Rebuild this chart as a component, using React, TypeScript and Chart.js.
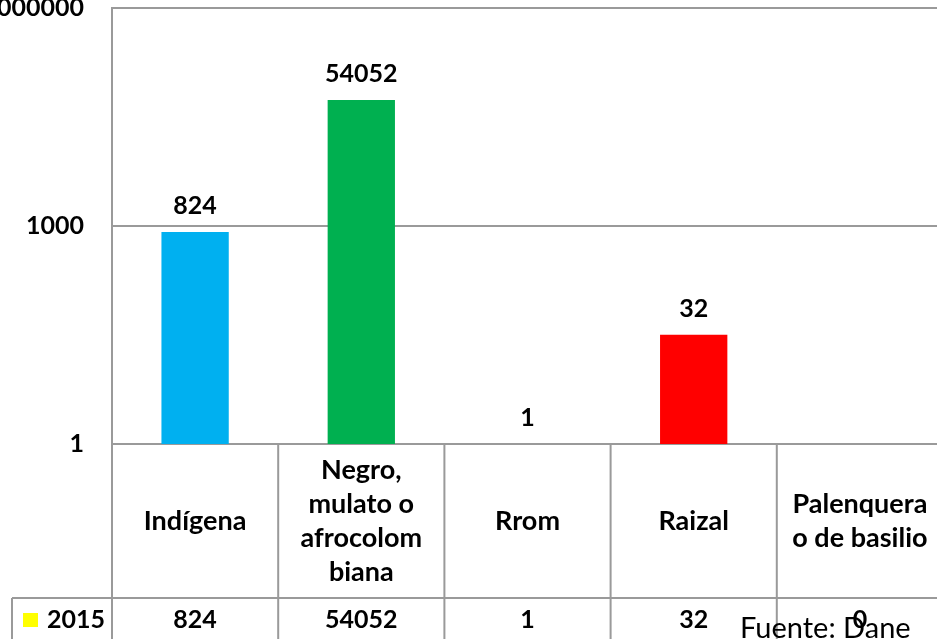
import React, { useEffect, useRef } from "react";
import { Chart, registerables } from "chart.js";

Chart.register(...registerables);

const categories = ["Indígena", "Negro, mulato o afrocolombiana", "Rrom", "Raizal", "Palenquera o de basilio"];
const categoryLines = [["Indígena"], ["Negro,", "mulato o", "afrocolom", "biana"], ["Rrom"], ["Raizal"], ["Palenquera", "o de basilio"]];
const seriesName = "2015";
const values2015 = [824, 54052, 1, 32, 0];
const barColors = ["#00B0F0", "#00B050", "#FFC000", "#FF0000", "#7030A0"];
const yTicks = [1, 1000, 1000000];
const sourceText = "Fuente: Dane";

const OX = 40; // canvas x = page x + OX
const OY = 10; // canvas y = page y + OY
const CW = 1000;
const CH = 700;
const GRID = "#9a9a9a";
const FONT = "Lato";

export default function App() {
  const ref = useRef<HTMLCanvasElement | null>(null);
  useEffect(() => {
    const canvas = ref.current;
    if (!canvas) return;

    const tablePlugin = {
      id: "tablePlugin",
      afterDatasetsDraw(chart: any) {
        const ctx = chart.ctx as CanvasRenderingContext2D;
        const meta = chart.getDatasetMeta(0);
        ctx.save();
        ctx.fillStyle = "#000";
        ctx.textAlign = "center";
        ctx.textBaseline = "middle";
        ctx.font = `bold 25px ${FONT}`;
        meta.data.forEach((bar: any, i: number) => {
          const v = chart.data.datasets[0].data[i];
          if (v == null) return;
          ctx.fillText(String(values2015[i]), bar.x, bar.y - 26);
        });
        ctx.restore();
      },
      afterDraw(chart: any) {
        const ctx = chart.ctx as CanvasRenderingContext2D;
        const area = chart.chartArea;
        const xs = chart.scales.x;
        const n = categories.length;
        const w = (area.right - area.left) / n;
        const rowY = 598 + OY;
        const bottom = CH;
        ctx.save();
        ctx.strokeStyle = GRID;
        ctx.lineWidth = 2;
        ctx.beginPath();
        for (let i = 0; i <= n; i++) {
          const x = area.left + i * w;
          ctx.moveTo(x, area.bottom);
          ctx.lineTo(x, bottom);
        }
        ctx.moveTo(12 + OX, rowY);
        ctx.lineTo(CW, rowY);
        ctx.moveTo(12 + OX, rowY);
        ctx.lineTo(12 + OX, bottom);
        ctx.stroke();

        ctx.fillStyle = "#000";
        ctx.textAlign = "center";
        ctx.textBaseline = "middle";
        ctx.font = `bold 27px ${FONT}`;
        const cy = (area.bottom + rowY) / 2;
        const lh = 34;
        categoryLines.forEach((lines, i) => {
          const x = xs.getPixelForValue(i);
          const start = cy - ((lines.length - 1) * lh) / 2;
          lines.forEach((t, j) => ctx.fillText(t, x, start + j * lh));
        });
        ctx.font = `bold 25px ${FONT}`;
        const dy = 620 + OY;
        values2015.forEach((v, i) => {
          ctx.fillText(String(v), xs.getPixelForValue(i), dy);
        });
        ctx.fillStyle = "#FFFF00";
        ctx.fillRect(23 + OX, 613 + OY, 15, 14);
        ctx.fillStyle = "#000";
        ctx.textAlign = "left";
        ctx.fillText(seriesName, 47 + OX, dy);
        ctx.font = `29px ${FONT}`;
        ctx.textBaseline = "alphabetic";
        ctx.fillText(sourceText, 740 + OX, 638 + OY);
        ctx.restore();
      },
    };

    const chart = new Chart(canvas, {
      type: "bar",
      data: {
        labels: categories,
        datasets: [
          {
            label: seriesName,
            data: values2015.map((v) => (v > 0 ? v : null)),
            backgroundColor: barColors,
            categoryPercentage: 1,
            barPercentage: 0.405,
          },
        ],
      },
      options: {
        animation: false,
        responsive: false,
        maintainAspectRatio: false,
        layout: { padding: { left: 0, top: 8 + OY, right: CW - (943 + OX), bottom: CH - (444 + OY) } },
        plugins: { legend: { display: false }, tooltip: { enabled: false } },
        scales: {
          x: { display: false, offset: true },
          y: {
            type: "logarithmic",
            min: 1,
            max: 1000000,
            afterBuildTicks: (scale: any) => {
              scale.ticks = yTicks.map((v) => ({ value: v }));
            },
            afterFit: (scale: any) => {
              scale.width = 112 + OX;
              scale.paddingTop = 0;
              scale.paddingBottom = 0;
            },
            grid: { color: GRID, lineWidth: 2, drawTicks: false },
            border: { color: GRID, width: 2 },
            ticks: {
              padding: 28,
              color: "#000",
              font: { family: FONT, weight: "bold", size: 25 },
              callback: (v: any) => String(v),
            },
          },
        },
      },
      plugins: [tablePlugin],
    } as any);
    return () => chart.destroy();
  }, []);

  return (
    <div style={{ position: "fixed", left: 0, top: 0, width: 937, height: 639, overflow: "hidden", background: "#fff" }}>
      <canvas
        ref={ref}
        width={CW}
        height={CH}
        style={{ position: "absolute", left: -OX, top: -OY, width: CW, height: CH }}
      />
    </div>
  );
}
